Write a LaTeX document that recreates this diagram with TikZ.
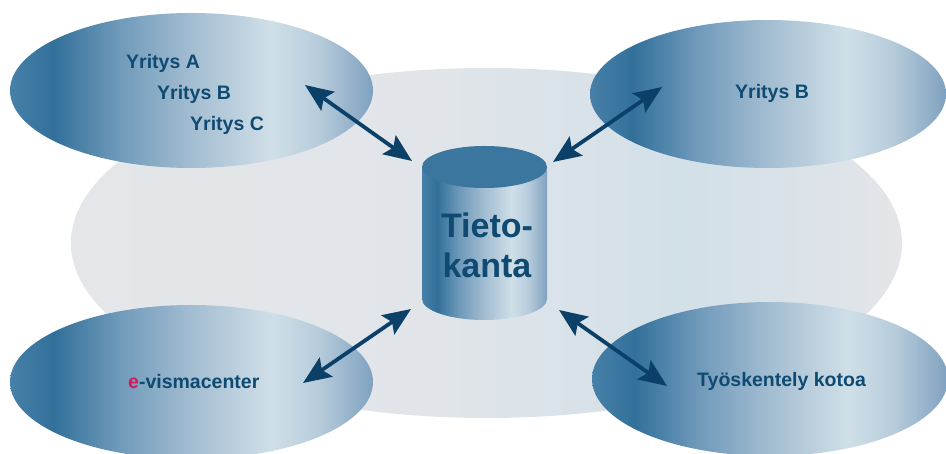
\documentclass[tikz,border=0pt]{standalone}
\usepackage{fontspec}
\setmainfont{Liberation Sans}
\usetikzlibrary{arrows.meta,shapes.geometric}
\definecolor{navy}{HTML}{0B4068}
\definecolor{txtblue}{HTML}{0E4A72}
\definecolor{emag}{HTML}{D6185A}
\definecolor{topface}{HTML}{3A769D}
\definecolor{ga}{HTML}{4780A8}
\definecolor{gb}{HTML}{32709A}
\definecolor{gc}{HTML}{6F9ABA}
\definecolor{gd}{HTML}{A3BDD1}
\definecolor{ge}{HTML}{CFDFE8}
\definecolor{gf}{HTML}{B7CCDB}
\definecolor{gg}{HTML}{7FA1BF}
\definecolor{ba}{HTML}{E4E6E9}
\definecolor{bb}{HTML}{E1E5E9}
\definecolor{bc}{HTML}{D2E0E8}
\definecolor{bd}{HTML}{DCE3E8}
\definecolor{be}{HTML}{E4E5E8}
\pgfdeclarehorizontalshading{ellgrad}{100bp}{color(0bp)=(ga); color(25bp)=(ga); color(31bp)=(gb); color(40bp)=(gc); color(50bp)=(gd); color(61bp)=(ge); color(67.5bp)=(gf); color(75bp)=(gg); color(100bp)=(gg)}
\pgfdeclarehorizontalshading{bggrad}{100bp}{color(0bp)=(ba); color(25bp)=(ba); color(47bp)=(bb); color(62bp)=(bc); color(70bp)=(bd); color(75bp)=(be); color(100bp)=(be)}
\tikzset{
  blob/.style={ellipse, inner sep=0pt, shading=ellgrad},
  lbl/.style={text=txtblue, font=\bfseries\fontsize{19.5}{22}\selectfont, anchor=base west, inner sep=0pt},
  tip/.style={Stealth[length=28pt,width=23pt,inset=5pt]},
  arr/.style={draw=navy, line width=3.8pt, {Stealth[length=28pt,width=23pt,inset=5pt]}-{Stealth[length=28pt,width=23pt,inset=5pt]}},
}
\begin{document}
\begin{tikzpicture}[x=1pt,y=-1pt]
\useasboundingbox (0,0) rectangle (946,454);
\clip (0,0) rectangle (946,454);
% background
\node[ellipse, inner sep=0pt, shading=bggrad, minimum width=831pt, minimum height=350pt] (bg) at (486.5,243) {};
% four ellipses
\node[blob, minimum width=363pt, minimum height=155pt] (tl) at (191.5,90.5) {};
\node[blob, minimum width=356pt, minimum height=148pt] (tr) at (768,94) {};
\node[blob, minimum width=363pt, minimum height=154pt] (bl) at (191.5,382) {};
\node[blob, minimum width=356pt, minimum height=154pt] (br) at (770,379) {};
% cylinder
\path[shading=ellgrad] (422,167) -- (422,299) arc[start angle=180, end angle=0, x radius=62.5, y radius=21] -- (547,167) -- cycle;
\fill[topface] (484.5,167) ellipse [x radius=62.5, y radius=21];
\node[text=txtblue, font=\bfseries\fontsize{34}{40}\selectfont, align=center, inner sep=0pt, anchor=base] (db) at (487,278) {Tieto-\\kanta};
% labels
\node[lbl] (ya) at (126,69) {Yritys A};
\node[lbl] (yb) at (157,100) {Yritys B};
\node[lbl] (yc) at (190,131) {Yritys C};
\node[lbl] (yb2) at (735,99) {Yritys B};
\node[lbl] (ev) at (128,389) {{\color{emag}e}-vismacenter};
\node[lbl] (tk) at (697,387) {Työskentely kotoa};
% arrow endpoints
\coordinate (a1) at (305,85);  \coordinate (b1) at (412,161);
\coordinate (a2) at (662,87);  \coordinate (b2) at (553,162);
\coordinate (a3) at (303,383); \coordinate (b3) at (411,309);
\coordinate (a4) at (667,386); \coordinate (b4) at (559,310);
\draw[arr] (a1) -- (b1);
\draw[arr] (a2) -- (b2);
\draw[arr] (a3) -- (b3);
\draw[arr] (a4) -- (b4);
\end{tikzpicture}
\end{document}
